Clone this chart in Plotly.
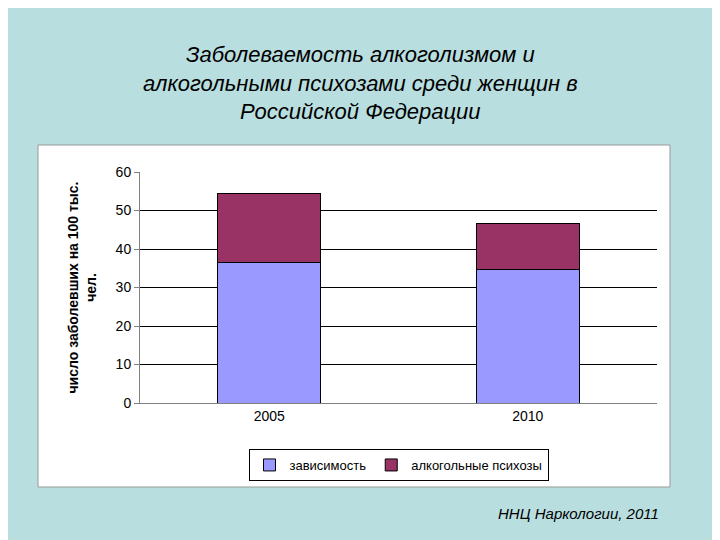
import plotly.graph_objects as go

years = ["2005", "2010"]
dependence = [36.5, 34.8]
psychoses = [18.0, 11.8]

OFF = 8
W, H = 720 - OFF, 540 - OFF
L, R, T, B = 140 - OFF, 63, 172 - OFF, 145 - OFF
pw, ph = W - L - R, H - T - B
def px(x): return (x - OFF - L) / pw
def py(y): return (H - B - (y - OFF)) / ph

fig = go.Figure()
fig.add_bar(x=years, y=dependence, name="зависимость",
            marker=dict(color="#9999ff", line=dict(color="black", width=1)))
fig.add_bar(x=years, y=psychoses, name="алкогольные психозы",
            marker=dict(color="#993366", line=dict(color="black", width=1)))

fig.update_layout(
    width=W, height=H, barmode="stack", bargap=0.6,
    paper_bgcolor="#b8dedf", plot_bgcolor="#c0c0c0",
    margin=dict(l=L, r=R, t=T, b=B),
    font=dict(family="Liberation Sans, Arial", color="black"),
    showlegend=True,
    legend=dict(orientation="h", traceorder="normal", x=0.5, xanchor="center", y=py(465), yanchor="middle",
                bordercolor="black", borderwidth=1, bgcolor="white", font=dict(size=13)),
    shapes=[dict(type="rect", xref="paper", yref="paper", x0=px(38), x1=px(670),
                 y0=py(487), y1=py(145), fillcolor="white",
                 line=dict(color="#999999", width=1), layer="below")],
    annotations=[
        dict(text="<i>Заболеваемость алкоголизмом и<br>алкогольными психозами среди женщин в<br>Российской Федерации</i>",
             xref="paper", yref="paper", x=px(360), y=py(83), xanchor="center", yanchor="middle",
             showarrow=False, font=dict(size=22), align="center"),
        dict(text="<i>ННЦ Наркологии, 2011</i>", xref="paper", yref="paper",
             x=px(578), y=py(513), xanchor="center", yanchor="middle",
             showarrow=False, font=dict(size=15)),
    ],
)
fig.update_yaxes(range=[0, 60], dtick=10, showgrid=True, gridcolor="black", gridwidth=1,
                 showline=True, linecolor="#808080", ticks="outside", tickcolor="#808080",
                 tickfont=dict(size=14),
                 title=dict(text="<b>число заболевших на 100 тыс.<br>чел.</b>", font=dict(size=14), standoff=15))
fig.update_xaxes(showline=True, linecolor="#808080", tickfont=dict(size=14))
fig.write_html("out.html")
